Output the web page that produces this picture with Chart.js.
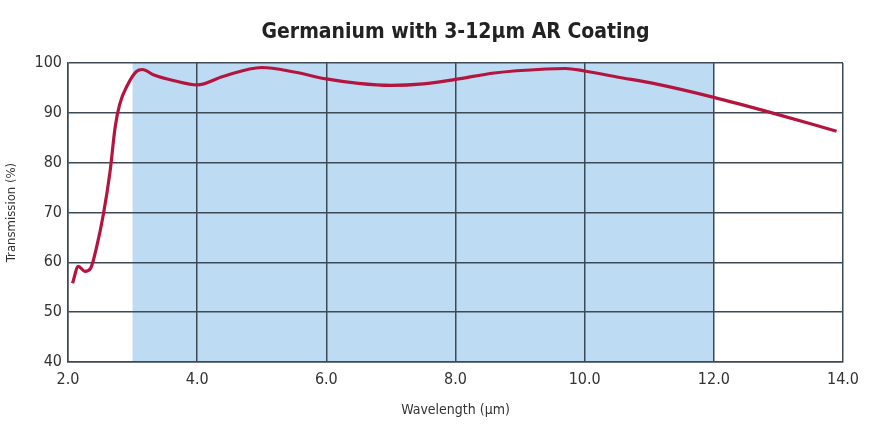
<!DOCTYPE html>
<html>
<head>
<meta charset="utf-8">
<script src="https://cdn.jsdelivr.net/npm/chart.js@4/dist/chart.umd.min.js"></script>
<style>
  html, body { margin: 0; padding: 0; background: #fff; }
  #wrap { width: 872px; height: 438px; }
</style>
</head>
<body>
<div id="wrap"><canvas id="ge-chart"></canvas></div>
<script>
// Data
const wavelength = [2.07, 2.16, 2.26, 2.35, 2.44, 2.55, 2.65, 2.73, 2.80, 2.93, 3.06, 3.15, 3.33, 3.63,
  4.0, 4.4, 5.0, 5.5, 6.0, 6.5, 7.0, 7.5, 8.0, 8.6, 9.4, 9.7, 10.0, 10.5, 11.1, 12.0, 12.9, 13.9];
const transmission = [55.8, 59.2, 58.2, 58.8, 62.9, 69.8, 78.1, 87.1, 91.7, 95.8, 98.3, 98.7, 97.6, 96.5,
  95.6, 97.3, 99.1, 98.2, 96.8, 95.9, 95.5, 95.8, 96.7, 98.0, 98.8, 98.9, 98.4, 97.2, 95.8, 93.1, 90.0, 86.3];

// AR coating design band (µm)
const bandStart = 3;
const bandEnd = 12;

const chartTitle = 'Germanium with 3-12µm AR Coating';

const FONT = "'Liberation Sans Narrow', 'DejaVu Sans Condensed', 'Roboto', sans-serif";

const points = wavelength.map((w, i) => ({ x: w, y: transmission[i] }));

// Shade the coating band under the grid, and put the title over the plot area
const bandPlugin = {
  id: 'band',
  beforeDraw(chart) {
    const { ctx, chartArea, scales } = chart;
    const x1 = scales.x.getPixelForValue(bandStart);
    const x2 = scales.x.getPixelForValue(bandEnd);
    ctx.save();
    ctx.fillStyle = '#bddcf3';
    ctx.fillRect(x1, chartArea.top, x2 - x1, chartArea.bottom - chartArea.top);
    ctx.restore();
  },
  afterDraw(chart) {
    const { ctx, chartArea } = chart;
    ctx.save();
    ctx.fillStyle = '#222';
    ctx.font = "bold 21px " + FONT;
    ctx.textAlign = 'center';
    ctx.textBaseline = 'middle';
    ctx.fillText(chartTitle, (chartArea.left + chartArea.right) / 2, 33);
    ctx.restore();
  }
};

const ctx = document.getElementById('ge-chart').getContext('2d');
const chart = new Chart(ctx, {
  type: 'line',
  data: {
    datasets: [{
      data: points,
      borderColor: '#b3153f',
      borderWidth: 3.2,
      pointRadius: 0,
      cubicInterpolationMode: 'monotone',
      fill: false
    }]
  },
  options: {
    responsive: true,
    maintainAspectRatio: false,
    animation: false,
    layout: { padding: { left: 0, right: 29, top: 63, bottom: 19 } },
    plugins: {
      legend: { display: false },
      tooltip: { enabled: false },
      title: { display: false }
    },
    scales: {
      x: {
        type: 'linear',
        min: 2,
        max: 14,
        ticks: {
          stepSize: 2,
          color: '#333',
          padding: 8,
          font: { family: FONT, size: 16 },
          callback: v => v.toFixed(1)
        },
        grid: { color: '#3d4a55', lineWidth: 1.5, drawTicks: false },
        border: { color: '#3d4a55', width: 1.5 },
        title: {
          display: true,
          text: 'Wavelength (µm)',
          color: '#333',
          font: { family: FONT, size: 14 },
          padding: { top: 4, bottom: 0 }
        },
        afterFit: s => { s.height = 57; }
      },
      y: {
        min: 40,
        max: 100,
        ticks: {
          stepSize: 10,
          color: '#333',
          padding: 6,
          font: { family: FONT, size: 16 }
        },
        grid: { color: '#3d4a55', lineWidth: 1.5, drawTicks: false },
        border: { color: '#3d4a55', width: 1.5 },
        title: {
          display: true,
          text: 'Transmission (%)',
          color: '#333',
          font: { family: FONT, size: 13 },
          padding: { bottom: 4 }
        },
        afterFit: s => { s.width = 68; }
      }
    }
  },
  plugins: [bandPlugin]
});
</script>
</body>
</html>
